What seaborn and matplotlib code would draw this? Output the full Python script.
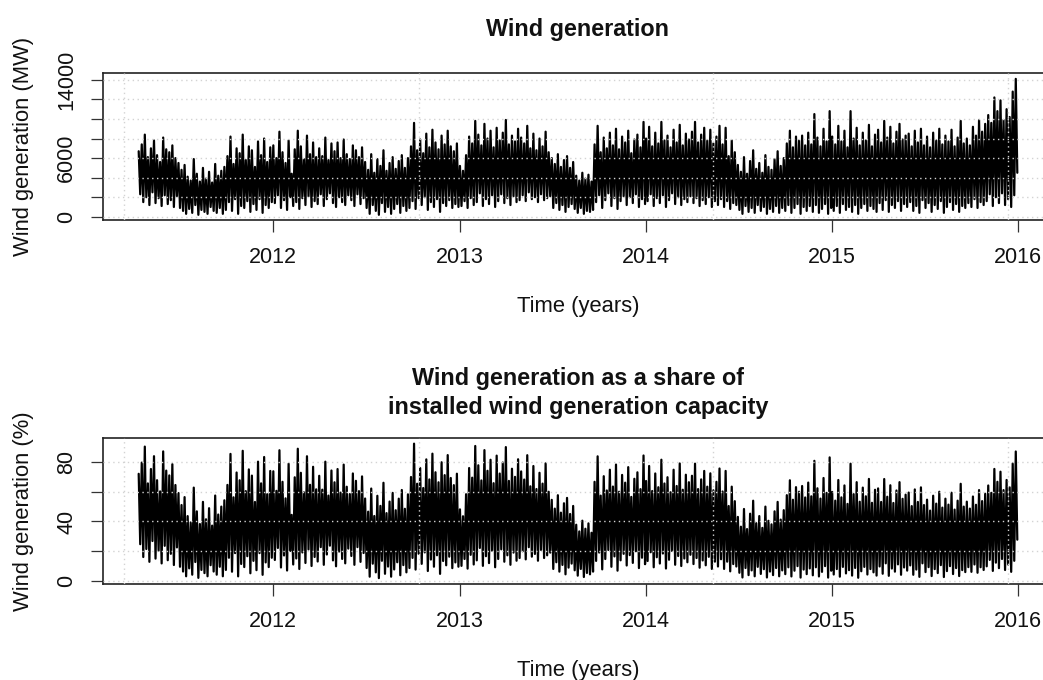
import pandas as pd
import matplotlib
matplotlib.use("Agg")
import matplotlib.pyplot as plt
import seaborn as sns

# Wind generation (MW), one reading every third day, alternating daily highs and lows
wind_2011 = [  # from 12 April 2011
    6700, 2300, 7400, 1500, 8400, 2000, 6100, 1200, 7000, 2500, 7800, 1400, 6300, 1900,
    5600, 1100, 8100, 2200, 6900, 1300, 6600, 1700, 7300, 1000, 6000, 2100, 5500,
    900, 4800, 600, 5300, 300, 4100, 800, 3700, 400, 5900, 1200, 4400, 200, 3600, 700,
    5000, 500, 3900, 300, 4600, 1000, 3500, 600, 5400, 400, 4200, 900, 4700, 300, 5100, 700,
    6200, 1500, 8200, 600, 5400, 1800, 7000, 300, 6500, 1100, 8400, 900, 5800, 1600, 7200,
    500, 6800, 1300, 5100, 700, 7700, 1800, 6300, 400, 8000, 1200, 5600, 900, 7100, 1500,
]
wind_2012 = [
    7300, 1400, 6000, 2200, 8700, 900, 6600, 1700, 5500, 700, 7800, 2000, 4400, 1100, 6900,
    1500, 8800, 800, 7200, 1900, 5900, 1200, 8300, 2100, 6400, 1000, 7600, 1600, 6100, 1300,
    7000, 2300, 6200, 1100, 8100, 1800, 5800, 2400, 7500, 1400, 6700, 1000, 7600, 2000, 6000,
    1500, 7900, 1200, 6400, 2200, 5900, 1700, 7300, 1100, 6800, 2300, 6100, 1300, 7100, 1900,
    5600, 900, 4800, 300, 6400, 1200, 4500, 600, 5900, 200, 5200, 1400, 6800, 500, 4700,
    1000, 5500, 300, 6100, 800, 4900, 1300, 5700, 400, 6300, 1100, 5000, 600, 6000, 900,
    7200, 1600, 9600, 800, 6800, 1900, 7900, 1200, 6500, 2000, 8500, 700, 7100, 1500, 8900,
    1000, 7600, 1800, 6900, 500, 8300, 1400, 7400, 1100, 8800, 1700, 7200, 900, 6700, 1300,
    7500, 1000,
]
wind_2013 = [
    5200, 1100, 4700, 1600, 6300, 900, 8200, 1900, 7500, 1200,
    9800, 1500, 8400, 2400, 7300, 1100, 9500, 1800, 8000, 1300, 8800, 2200, 7100, 1000, 9100,
    1600, 7800, 2300, 8600, 1400, 9900, 1900, 7400, 1200, 8300, 2100, 7700, 1500, 9000, 1700,
    8100, 2200, 7500, 1600, 9300, 2500, 7000, 1800, 8500, 2000, 6800, 1500, 8000, 2300, 7200,
    1700, 8700, 1900, 6600, 2100,
    6000, 900, 5400, 1400, 6400, 700, 5100, 1200, 5800, 500, 6200, 1000, 5000, 1300, 5600,
    800, 4200, 400, 3700, 900, 4500, 300, 3900, 600, 4300, 500, 3600, 700,
    7400, 1500, 9300, 2200, 6600, 900, 8100, 1700, 7000, 2400, 8600, 1100, 7300, 1900, 9000,
    800, 6900, 1600, 8200, 2100, 7600, 1200, 8800, 2000, 6500, 1400, 7900, 2300, 8400, 1000,
    7100, 1800, 9700, 1300,
]
wind_2014 = [
    8000, 1600, 9200, 2300, 7200, 1100, 8600, 1900, 7500, 1400, 9700, 2200, 7800, 1000, 8300,
    1700, 7100, 2400, 8900, 1300, 7600, 2000, 9400, 1200, 7300, 1800, 8500, 1500, 7900, 2100,
    8700, 1400, 9700, 1900, 7600, 1100, 8400, 1700, 9100, 1300, 7800, 2000, 8900, 1000, 7500,
    1600, 8200, 1200, 9300, 1800,
    7400, 1000, 9100, 1600, 6200, 800, 7800, 1400, 6600, 1200,
    5300, 700, 4600, 300, 6100, 1100, 4400, 500, 5700, 900, 6800, 400, 4900, 1200, 5500,
    600, 4500, 1000, 6300, 300, 5100, 800, 4800, 500, 5900, 1100, 6700, 400, 5200, 900, 6000,
    600, 7500, 1200, 8800, 400, 7100, 900, 8200, 1300, 7800, 300, 8300, 1000, 7300, 600,
    8600, 1100, 7400, 500, 10500, 1200, 8100, 400, 7200, 800, 9000, 1300, 7700, 300, 10800, 900,
]
wind_2015 = [
    8200, 600, 7400, 1100, 9300, 400, 7700, 1300, 8800, 700, 7100, 1000, 10800, 500, 8000,
    1200, 9100, 300, 7300, 900, 8600, 1300, 7800, 600, 9400, 1100, 7200, 800, 8400, 500,
    8900, 1400, 7600, 700, 9800, 1700, 8100, 500, 9200, 1200, 7500, 900, 8700, 1600, 9500,
    600, 7900, 1300, 8300, 1000,
    8500, 1500, 7200, 600, 8800, 1100, 7600, 400, 9000, 1700, 7300, 900, 8200, 1400, 7100,
    500, 8600, 1200, 7800, 800, 9000, 1600, 7400, 400, 8300, 1000, 7700, 1500, 8900, 700,
    7200, 1300, 8100, 500, 9800, 1100, 7500, 900, 8000, 1400, 7300,
    1000, 9200, 1800, 8300, 900, 9900, 1500, 8700, 1200, 9500,
    1600, 10400, 2300, 9600, 1100, 12200, 2000, 10800, 1400, 11900, 2400, 9900, 1200, 11000,
    1800, 10200, 1000, 12800, 2200, 14100, 4500,
]
series_starts = ["2011-04-12", "2012-01-01", "2013-01-01", "2014-01-01", "2015-01-01"]

# Installed wind generation capacity (MW) per quarter, 2011Q2 .. 2015Q4
capacity_mw = [
    9300, 9400, 9600,
    9900, 10100, 10300, 10400,
    10800, 11000, 11100, 11500,
    11900, 12300, 12600, 13000,
    13700, 14300, 15000, 16200,
]
capacity_first_quarter = "2011Q2"

year_ticks = [2012, 2013, 2014, 2015, 2016]
mw_ticks = [0, 2000, 4000, 6000, 8000, 10000, 12000, 14000]
mw_tick_labels = ["0", "", "", "6000", "", "", "", "14000"]
pct_ticks = [0, 20, 40, 60, 80]
pct_tick_labels = ["0", "", "40", "", "80"]
vgrid_dates = ["2011-03-14", "2012-10-12", "2014-05-13", "2015-12-12"]

# ---- assemble the time series ----
frames = []
for start, values in zip(series_starts,
                         [wind_2011, wind_2012, wind_2013, wind_2014, wind_2015]):
    t = pd.date_range(start, periods=len(values), freq="3D")
    frames.append(pd.DataFrame({"time": t, "mw": values}))
df = pd.concat(frames, ignore_index=True)

quarters = pd.period_range(capacity_first_quarter, periods=len(capacity_mw), freq="Q")
cap = pd.Series(capacity_mw, index=quarters)
df["capacity"] = cap.reindex(df["time"].dt.to_period("Q")).to_numpy()
df["share"] = df["mw"] / df["capacity"] * 100

# ---- styling ----
sns.set_style("white")
plt.rcParams["font.family"] = ["Liberation Sans", "DejaVu Sans"]

W, H = 1043, 680
fig = plt.figure(figsize=(W / 100, H / 100), dpi=100)
left, right = 103, 1053
ax1 = fig.add_axes([left / W, 1 - 220 / H, (right - left) / W, 147 / H])
ax2 = fig.add_axes([left / W, 1 - 584 / H, (right - left) / W, 146 / H])

xlim = (pd.Timestamp("2011-02-01"), pd.Timestamp("2016-03-09"))
grid_kw = dict(color="#d3d3d3", linestyle=(0, (1, 2.5)), linewidth=1.0, zorder=3)

panels = [
    (ax1, "mw", "Wind generation", "Wind generation (MW)",
     mw_ticks, mw_tick_labels, (-330, 14700), 26.5),
    (ax2, "share", "Wind generation as a share of\ninstalled wind generation capacity",
     "Wind generation (%)", pct_ticks, pct_tick_labels, (-2, 96.1), 17),
]

for ax, col, title, ylabel, yt, ytl, ylim, tpad in panels:
    sns.lineplot(data=df, x="time", y=col, ax=ax, color="black",
                 linewidth=1.6, estimator=None, sort=False, zorder=2)
    ax.set_xlim(*xlim)
    ax.set_ylim(*ylim)

    for y in yt:
        ax.axhline(y, **grid_kw)
    for d in vgrid_dates:
        ax.axvline(pd.Timestamp(d), **grid_kw)

    ax.set_xticks([pd.Timestamp(f"{y}-01-01") for y in year_ticks])
    ax.set_xticklabels([str(y) for y in year_ticks])
    ax.set_yticks(yt)
    ax.set_yticklabels(ytl, rotation=90, va="center")

    ax.tick_params(axis="both", which="major", bottom=True, left=True,
                   direction="out", length=8.5, width=0.9, color="#333333",
                   labelsize=15.5, labelcolor="#111111")
    ax.tick_params(axis="x", pad=11)
    ax.tick_params(axis="y", pad=10)

    for s in ax.spines.values():
        s.set_color("#222222")
        s.set_linewidth(1.2)

    ax.set_title(title, fontsize=16.8, fontweight="bold", pad=tpad,
                 color="#111111", linespacing=1.38)
    ax.set_xlabel("Time (years)", fontsize=15.8, labelpad=20, color="#111111")
    ax.set_ylabel(ylabel, fontsize=15.8, color="#111111")
    ax.yaxis.set_label_coords(-0.073, 0.5)

fig.savefig("out.png", dpi=100)
